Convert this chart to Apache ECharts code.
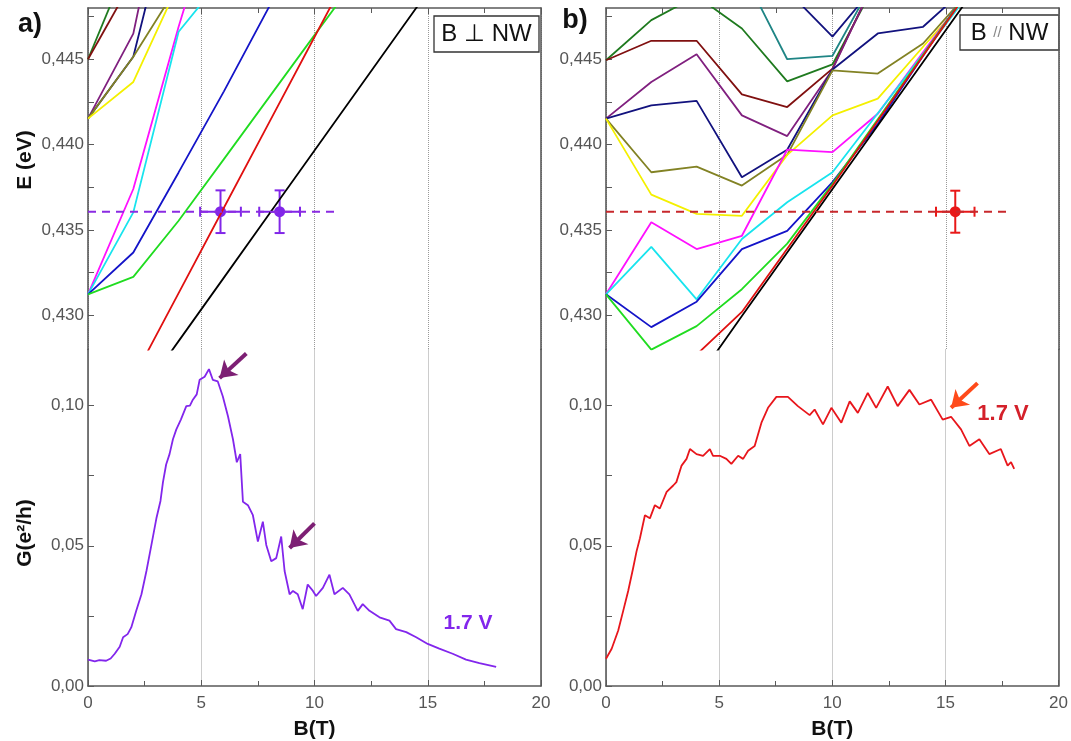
<!DOCTYPE html>
<html>
<head>
<meta charset="utf-8">
<script src="https://cdn.jsdelivr.net/npm/echarts@6/dist/echarts.min.js"></script>
<style>
    html, body {margin: 0; padding: 0; background: #fff;}
    #app {width: 1071px; height: 741px;}
</style>
</head>
<body>
<div id="app"></div>
<script>
//B 节点 (T)
var bNodes = [0, 2, 4, 6, 8, 10, 12, 14, 16]

//a) B ⊥ NW 能级 (eV)
var lDkGreen = [0.4450, 0.4514]
var lBrown = [0.4450, 0.4497]
var lPurple = [0.44152, 0.4465, 0.4591]
var lNavy = [0.44152, 0.44514, 0.4558]
var lOlive = [0.44152, 0.44514, 0.44938]
var lYellow = [0.44152, 0.44367, 0.44943]
var lMagenta = [0.43123, 0.4374, 0.4469, 0.4556]
var lCyan = [0.43123, 0.43603, 0.44661, 0.44987]
var lBlue = [0.43123, 0.43368, 0.43837, 0.44312, 0.44808, 0.4530]
var lGreen = [0.43123, 0.43225, 0.43554, 0.43915, 0.44278, 0.44641, 0.4500]
var lRed = [0.4213, 0.4263, 0.4313, 0.4363, 0.4413, 0.4463, 0.4513]
var lBlack = [0.4211, 0.42477, 0.42849, 0.43221, 0.43593, 0.43965, 0.44337, 0.44709, 0.45081]

//b) B // NW 能级 (eV)
var rDkGreen = [0.44494, 0.44729, 0.4487, 0.4468, 0.4437, 0.4447, 0.4497]
var rBrown = [0.44494, 0.44608, 0.44608, 0.44294, 0.4422, 0.44445, 0.4500]
var rPurple = [0.44152, 0.44367, 0.44529, 0.44171, 0.4405, 0.4444, 0.4500]
var rNavy = [0.44152, 0.4423, 0.44256, 0.43809, 0.4397, 0.4444, 0.44651, 0.4469, 0.4493]
var rNavyTop = [null, null, null, null, 0.44903, 0.44632, 0.4495]
var rTeal = [null, null, null, 0.4502, 0.4450, 0.4452, 0.4500]
var rOlive = [0.44152, 0.43838, 0.43871, 0.4376, 0.4394, 0.44435, 0.44416, 0.44592, 0.4489]
var rYellow = [0.44152, 0.43707, 0.43594, 0.43583, 0.4394, 0.44171, 0.44269, 0.44573, 0.4487]
var rMagenta = [0.43123, 0.43545, 0.43388, 0.43466, 0.4397, 0.43956, 0.44181, 0.4454, 0.4490]
var rCyan = [0.43123, 0.43401, 0.43094, 0.43447, 0.43662, 0.43838, 0.44184, 0.4453, 0.4488]
var rBlue = [0.43123, 0.42931, 0.4308, 0.43388, 0.43495, 0.4378, 0.44122, 0.4452, 0.4491]
var rGreen = [0.43123, 0.42799, 0.42937, 0.43153, 0.4342, 0.4377, 0.44148, 0.44526, 0.44904]
var rRed = [null, 0.4251, 0.4277, 0.4302, 0.4339, 0.4376, 0.4414, 0.4452, 0.4490]
var rBlack = [null, null, 0.4262, 0.42996, 0.43368, 0.4374, 0.44112, 0.44484, 0.44856]

//实验点 [B, E, dB, dE]
var ptsL = [[5.85, 0.43607, 0.9, 0.00125], [8.46, 0.43607, 0.9, 0.00125]]
var ptsR = [[15.42, 0.43607, 0.85, 0.00123]]
var dashL = [0, 11.05]
var dashR = [0, 17.9]
var dashE = 0.43607

//电导 G (e²/h)
var gBL = [0, 0.3, 0.5, 0.8, 1.0, 1.18, 1.4, 1.55, 1.75, 1.91, 2.13, 2.36, 2.58, 2.8, 3.02,
    3.2, 3.31, 3.45, 3.6, 3.75, 3.9, 4.1, 4.34, 4.5, 4.63, 4.8, 4.93, 5.15, 5.34, 5.51,
    5.73, 5.95, 6.18, 6.4, 6.57, 6.65, 6.72, 6.84, 7.06, 7.28, 7.5, 7.72, 7.87, 8.09, 8.31,
    8.53, 8.68, 8.9, 9.05, 9.26, 9.48, 9.7, 9.93, 10.07, 10.37, 10.66, 10.88, 11.25, 11.54, 11.91,
    12.13, 12.43, 12.87, 13.31, 13.6, 14.05, 14.49, 15.0, 15.51, 16.1, 16.69, 17.28, 18.02]
var gL = [0.0094, 0.0088, 0.0092, 0.009, 0.0098, 0.0115, 0.014, 0.0174, 0.0185, 0.0209, 0.0268, 0.0327, 0.041, 0.0503, 0.0598,
    0.066, 0.0727, 0.079, 0.0827, 0.088, 0.0915, 0.095, 0.0998, 0.1, 0.1021, 0.104, 0.1092, 0.1103, 0.113, 0.1092,
    0.1086, 0.1033, 0.0962, 0.088, 0.0798, 0.08, 0.0827, 0.0657, 0.0645, 0.0609, 0.0515, 0.0586, 0.0503, 0.0445, 0.0456,
    0.0533, 0.041, 0.0327, 0.0339, 0.0327, 0.0274, 0.0362, 0.0339, 0.0321, 0.035, 0.0397, 0.0327, 0.035, 0.0327, 0.0268,
    0.0292, 0.0268, 0.0245, 0.0233, 0.0203, 0.0192, 0.0174, 0.015, 0.0133, 0.0115, 0.0094, 0.0082, 0.0068]

var gBR = [0, 0.25, 0.54, 0.76, 0.98, 1.2, 1.35, 1.5, 1.72, 1.94, 2.16, 2.38, 2.68, 2.97, 3.11,
    3.34, 3.56, 3.71, 4.0, 4.29, 4.59, 4.73, 5.03, 5.32, 5.54, 5.84, 6.06, 6.28, 6.57, 6.87,
    7.16, 7.53, 8.04, 8.48, 9.0, 9.22, 9.59, 9.96, 10.4, 10.77, 11.13, 11.57, 11.94, 12.45, 12.89,
    13.41, 13.85, 14.37, 14.88, 15.25, 15.69, 16.06, 16.5, 16.94, 17.45, 17.75, 17.9, 18.04]
var gR = [0.0097, 0.0133, 0.0198, 0.0268, 0.0339, 0.0421, 0.048, 0.0527, 0.0609, 0.0598, 0.0645, 0.0633, 0.0692, 0.0715, 0.0727,
    0.0786, 0.081, 0.0845, 0.0827, 0.0821, 0.0845, 0.0821, 0.0821, 0.081, 0.0792, 0.0821, 0.081, 0.0839, 0.0856, 0.0939,
    0.0992, 0.1031, 0.1031, 0.0998, 0.0966, 0.0986, 0.0933, 0.0992, 0.0939, 0.1015, 0.0974, 0.1045, 0.0992, 0.1068, 0.0998,
    0.1056, 0.1004, 0.1021, 0.095, 0.096, 0.0915, 0.0856, 0.088, 0.0827, 0.0845, 0.0786, 0.0798, 0.0774]

//箭头 [B1, G1, B2, G2]
var arrowsL = [[6.99, 0.1186, 5.81, 0.1098], [10.0, 0.058, 8.9, 0.0492]]
var arrowsR = [[16.42, 0.108, 15.25, 0.0992]]

//刻度
var eLabels = [0.430, 0.435, 0.440, 0.445]
var eTicks = [0.430, 0.4325, 0.435, 0.4375, 0.440, 0.4425, 0.445, 0.4475]
var gLabels = [0, 0.05, 0.10]
var gTicks = [0, 0.025, 0.05, 0.075, 0.10]

var FONT = '"Liberation Sans", Arial, sans-serif'
var AXIS = '#5a5a5a'

var chart = echarts.init(document.getElementById('app'))

var levelSeries = (arr, color, grid) => ({
    type: 'line',
    xAxisIndex: grid,
    yAxisIndex: grid,
    data: bNodes.map((b, i) => [b, arr[i]]).filter((p) => p[1] !== null && p[1] !== undefined),
    showSymbol: false,
    clip: true,
    lineStyle: {color: color, width: 1.8},
    silent: true
})

var zip = (xs, ys) => xs.map((x, i) => [x, ys[i]])

var errSeries = (pts, color, grid) => ({
    type: 'custom',
    xAxisIndex: grid,
    yAxisIndex: grid,
    data: pts,
    silent: true,
    renderItem: (params, api) => {
        var b = api.value(0), e = api.value(1), db = api.value(2), de = api.value(3)
        var c = api.coord([b, e])
        var l = api.coord([b - db, e])
        var r = api.coord([b + db, e])
        var t = api.coord([b, e + de])
        var d = api.coord([b, e - de])
        var st = {stroke: color, lineWidth: 2}
        var cap = 5
        return {
            type: 'group',
            children: [
                {type: 'line', shape: {x1: l[0], y1: l[1], x2: r[0], y2: r[1]}, style: st},
                {type: 'line', shape: {x1: t[0], y1: t[1], x2: d[0], y2: d[1]}, style: st},
                {type: 'line', shape: {x1: l[0], y1: l[1] - cap, x2: l[0], y2: l[1] + cap}, style: st},
                {type: 'line', shape: {x1: r[0], y1: r[1] - cap, x2: r[0], y2: r[1] + cap}, style: st},
                {type: 'line', shape: {x1: t[0] - cap, y1: t[1], x2: t[0] + cap, y2: t[1]}, style: st},
                {type: 'line', shape: {x1: d[0] - cap, y1: d[1], x2: d[0] + cap, y2: d[1]}, style: st},
                {type: 'circle', shape: {cx: c[0], cy: c[1], r: 5.5}, style: {fill: color}}
            ]
        }
    }
})

var dashSeries = (range, color, grid) => ({
    type: 'line',
    xAxisIndex: grid,
    yAxisIndex: grid,
    data: range.map((b) => [b, dashE]),
    showSymbol: false,
    silent: true,
    lineStyle: {color: color, width: 2, type: [8, 6]}
})

var arrowLine = (arrows, color) => ({
    silent: true,
    symbol: ['none', 'arrow'],
    symbolSize: 16,
    label: {show: false},
    lineStyle: {color: color, width: 4, type: 'solid', opacity: 1},
    itemStyle: {color: color},
    data: arrows.map((a) => [{coord: [a[0], a[1]]}, {coord: [a[2], a[3]]}])
})

var xAxisOf = (grid, pos, showLabel) => ({
    gridIndex: grid,
    type: 'value',
    position: pos,
    min: 0,
    max: 20,
    interval: 5,
    axisLine: {show: true, onZero: false, lineStyle: {color: AXIS, width: 1.6}},
    axisTick: {show: true, inside: true, length: 6, lineStyle: {color: AXIS}},
    minorTick: {show: true, splitNumber: 2, length: 5, lineStyle: {color: AXIS}},
    axisLabel: {show: showLabel, color: '#555', fontSize: 17, fontFamily: FONT, margin: 9},
    splitLine: {show: true, lineStyle: {color: '#999', type: 'dotted', width: 1}},
    name: showLabel ? 'B(T)' : '',
    nameLocation: 'middle',
    nameGap: 33,
    nameTextStyle: {color: '#111', fontSize: 21, fontWeight: 'bold', fontFamily: FONT}
})

var yAxisOf = (grid, min, max, labels, ticks, digits) => ({
    gridIndex: grid,
    type: 'value',
    position: 'left',
    min: min,
    max: max,
    axisLine: {show: true, onZero: false, lineStyle: {color: AXIS, width: 1.6}},
    axisTick: {show: true, inside: true, length: 6, customValues: ticks, lineStyle: {color: AXIS}},
    axisLabel: {
        customValues: labels,
        formatter: (v) => v.toFixed(digits).replace('.', ','),
        color: '#555', fontSize: 17, fontFamily: FONT, margin: 4
    },
    splitLine: {show: false}
})

var edgeAxis = (grid, min, max) => ({
    gridIndex: grid,
    type: 'value',
    position: 'right',
    min: min,
    max: max,
    axisLine: {show: true, onZero: false, lineStyle: {color: AXIS, width: 1.6}},
    axisTick: {show: false},
    axisLabel: {show: false},
    splitLine: {show: false}
})

var series = [
    //a) 能级
    levelSeries(lDkGreen, '#1f7a1f', 0),
    levelSeries(lBrown, '#801010', 0),
    levelSeries(lPurple, '#80207f', 0),
    levelSeries(lNavy, '#12127e', 0),
    levelSeries(lOlive, '#828224', 0),
    levelSeries(lYellow, '#f4f000', 0),
    levelSeries(lMagenta, '#ff10ff', 0),
    levelSeries(lCyan, '#18e4ee', 0),
    levelSeries(lBlue, '#1414c8', 0),
    levelSeries(lGreen, '#20dc20', 0),
    levelSeries(lRed, '#e01010', 0),
    levelSeries(lBlack, '#000000', 0),
    dashSeries(dashL, '#8a2be2', 0),
    errSeries(ptsL, '#8126e8', 0),
    //a) 电导
    {
        type: 'line', xAxisIndex: 1, yAxisIndex: 1,
        data: zip(gBL, gL), showSymbol: false, silent: true,
        lineStyle: {color: '#8226ec', width: 1.8},
        markLine: arrowLine(arrowsL, '#7d1f74')
    },
    //b) 能级
    levelSeries(rDkGreen, '#1f7a1f', 2),
    levelSeries(rBrown, '#801010', 2),
    levelSeries(rPurple, '#80207f', 2),
    levelSeries(rNavy, '#12127e', 2),
    levelSeries(rNavyTop, '#12127e', 2),
    levelSeries(rTeal, '#1f8585', 2),
    levelSeries(rOlive, '#828224', 2),
    levelSeries(rYellow, '#f4f000', 2),
    levelSeries(rMagenta, '#ff10ff', 2),
    levelSeries(rCyan, '#18e4ee', 2),
    levelSeries(rBlue, '#1414c8', 2),
    levelSeries(rGreen, '#20dc20', 2),
    levelSeries(rRed, '#e01010', 2),
    levelSeries(rBlack, '#000000', 2),
    dashSeries(dashR, '#c8282c', 2),
    errSeries(ptsR, '#e81818', 2),
    //b) 电导
    {
        type: 'line', xAxisIndex: 3, yAxisIndex: 3,
        data: zip(gBR, gR), showSymbol: false, silent: true,
        lineStyle: {color: '#e8161c', width: 1.8},
        markLine: arrowLine(arrowsR, '#ff4a1a')
    }
]

chart.setOption({
    animation: false,
    backgroundColor: '#fff',
    grid: [
        {left: 88, top: 8, width: 453, height: 341.5},
        {left: 88, top: 349.5, width: 453, height: 340},
        {left: 606, top: 8, width: 453, height: 341.5},
        {left: 606, top: 349.5, width: 453, height: 340}
    ],
    xAxis: [
        xAxisOf(0, 'top', false),
        xAxisOf(1, 'bottom', true),
        xAxisOf(2, 'top', false),
        xAxisOf(3, 'bottom', true)
    ],
    yAxis: [
        yAxisOf(0, 0.428, 0.448, eLabels, eTicks, 3),
        yAxisOf(1, 0, 0.12, gLabels, gTicks, 2),
        yAxisOf(2, 0.428, 0.448, eLabels, eTicks, 3),
        yAxisOf(3, 0, 0.12, gLabels, gTicks, 2),
        edgeAxis(0, 0.428, 0.448),
        edgeAxis(1, 0, 0.12),
        edgeAxis(2, 0.428, 0.448),
        edgeAxis(3, 0, 0.12)
    ],
    series: series,
    graphic: [
        {type: 'text', x: 30, y: 25, style: {text: 'a)', font: 'bold 27px ' + FONT, fill: '#111', textAlign: 'center', textVerticalAlign: 'middle'}},
        {type: 'text', x: 575, y: 21, style: {text: 'b)', font: 'bold 27px ' + FONT, fill: '#111', textAlign: 'center', textVerticalAlign: 'middle'}},
        {type: 'text', x: 25, y: 160, rotation: Math.PI / 2, style: {text: 'E (eV)', font: 'bold 21px ' + FONT, fill: '#111', textAlign: 'center', textVerticalAlign: 'middle'}},
        {type: 'text', x: 25, y: 533, rotation: Math.PI / 2, style: {text: 'G(e²/h)', font: 'bold 21px ' + FONT, fill: '#111', textAlign: 'center', textVerticalAlign: 'middle'}},
        {type: 'rect', shape: {x: 434, y: 16, width: 105, height: 36}, style: {fill: '#fff', stroke: '#333', lineWidth: 1.3}},
        {type: 'text', x: 486.5, y: 34, style: {text: 'B ⊥ NW', font: '24px ' + FONT, fill: '#111', textAlign: 'center', textVerticalAlign: 'middle'}},
        {type: 'rect', shape: {x: 960, y: 15, width: 99, height: 35}, style: {fill: '#fff', stroke: '#333', lineWidth: 1.3}},
        {
            type: 'text', x: 1009.5, y: 33,
            style: {
                text: '{a|B }{b|//}{a| NW}',
                textAlign: 'center', textVerticalAlign: 'middle',
                rich: {
                    a: {fontSize: 24, fontFamily: FONT, fill: '#111', color: '#111'},
                    b: {fontSize: 15, fontFamily: FONT, fill: '#888', color: '#888'}
                }
            }
        },
        {type: 'text', x: 468, y: 623, style: {text: '1.7 V', font: 'bold 21px ' + FONT, fill: '#8226ec', textAlign: 'center', textVerticalAlign: 'middle'}},
        {type: 'text', x: 1003, y: 414, style: {text: '1.7 V', font: 'bold 22px ' + FONT, fill: '#d4202a', textAlign: 'center', textVerticalAlign: 'middle'}}
    ]
})
</script>
</body>
</html>
